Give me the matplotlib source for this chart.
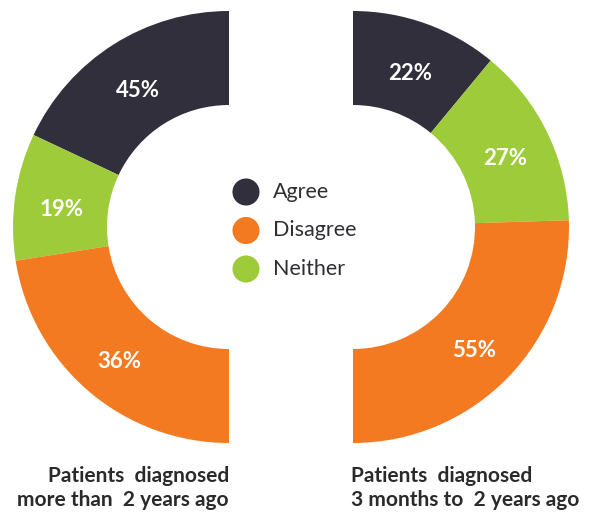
import numpy as np
import matplotlib.pyplot as plt
from matplotlib.patches import Wedge

categories = ["Agree", "Disagree", "Neither"]
colors = {"Agree": "#312F3B", "Disagree": "#F47A22", "Neither": "#9ECB3A"}

# segment order around each half ring (top to bottom)
ring_order = ["Agree", "Neither", "Disagree"]

# left ring: printed percentages and the arc shares as drawn
left_labels = [45, 19, 36]
left_sizes = [36, 19, 45]
# right ring
right_labels = [22, 27, 55]
right_sizes = [22, 27, 51]

left_title = "Patients  diagnosed\nmore than  2 years ago"
right_title = "Patients  diagnosed\n3 months to  2 years ago"

W, H = 590, 513
fig = plt.figure(figsize=(W / 100, H / 100), dpi=100)
ax = fig.add_axes([0, 0, 1, 1])
ax.set_xlim(0, W)
ax.set_ylim(0, H)
ax.axis("off")

r_out, r_in = 216, 122
cy = H - 227


def half_ring(cx, sizes, labels, left):
    total = sum(sizes)
    ang = 90.0
    for cat, s, lab in zip(ring_order, sizes, labels):
        span = 180.0 * s / total
        if left:
            t1, t2 = ang, ang + span
            ang = t2
        else:
            t1, t2 = ang - span, ang
            ang = t1
        ax.add_patch(Wedge((cx, cy), r_out, t1, t2, width=r_out - r_in,
                           facecolor=colors[cat], edgecolor="none"))
        mid = np.deg2rad((t1 + t2) / 2)
        rm = (r_out + r_in) / 2
        ax.text(cx + rm * np.cos(mid), cy + rm * np.sin(mid) - 6, f"{lab}%",
                color="white", fontsize=16, fontweight="bold",
                family="Lato", ha="center", va="center")


half_ring(229, left_sizes, left_labels, True)
half_ring(353, right_sizes, right_labels, False)

# legend in the middle
for i, cat in enumerate(categories):
    y = H - (192 + 38.5 * i)
    ax.scatter([246], [y], s=380, color=colors[cat], edgecolors="none")
    ax.text(273, y, cat, fontsize=15.5, color="#2f2f33", family="Lato",
            va="center", ha="left")

ax.text(229, H - 488, left_title, ha="right", va="center", fontsize=15,
        fontweight="bold", color="#2a2a2a", family="Lato", linespacing=1.2)
ax.text(351, H - 488, right_title, ha="left", va="center", fontsize=15,
        fontweight="bold", color="#2a2a2a", family="Lato", linespacing=1.2)

fig.savefig("out.png", dpi=100)
